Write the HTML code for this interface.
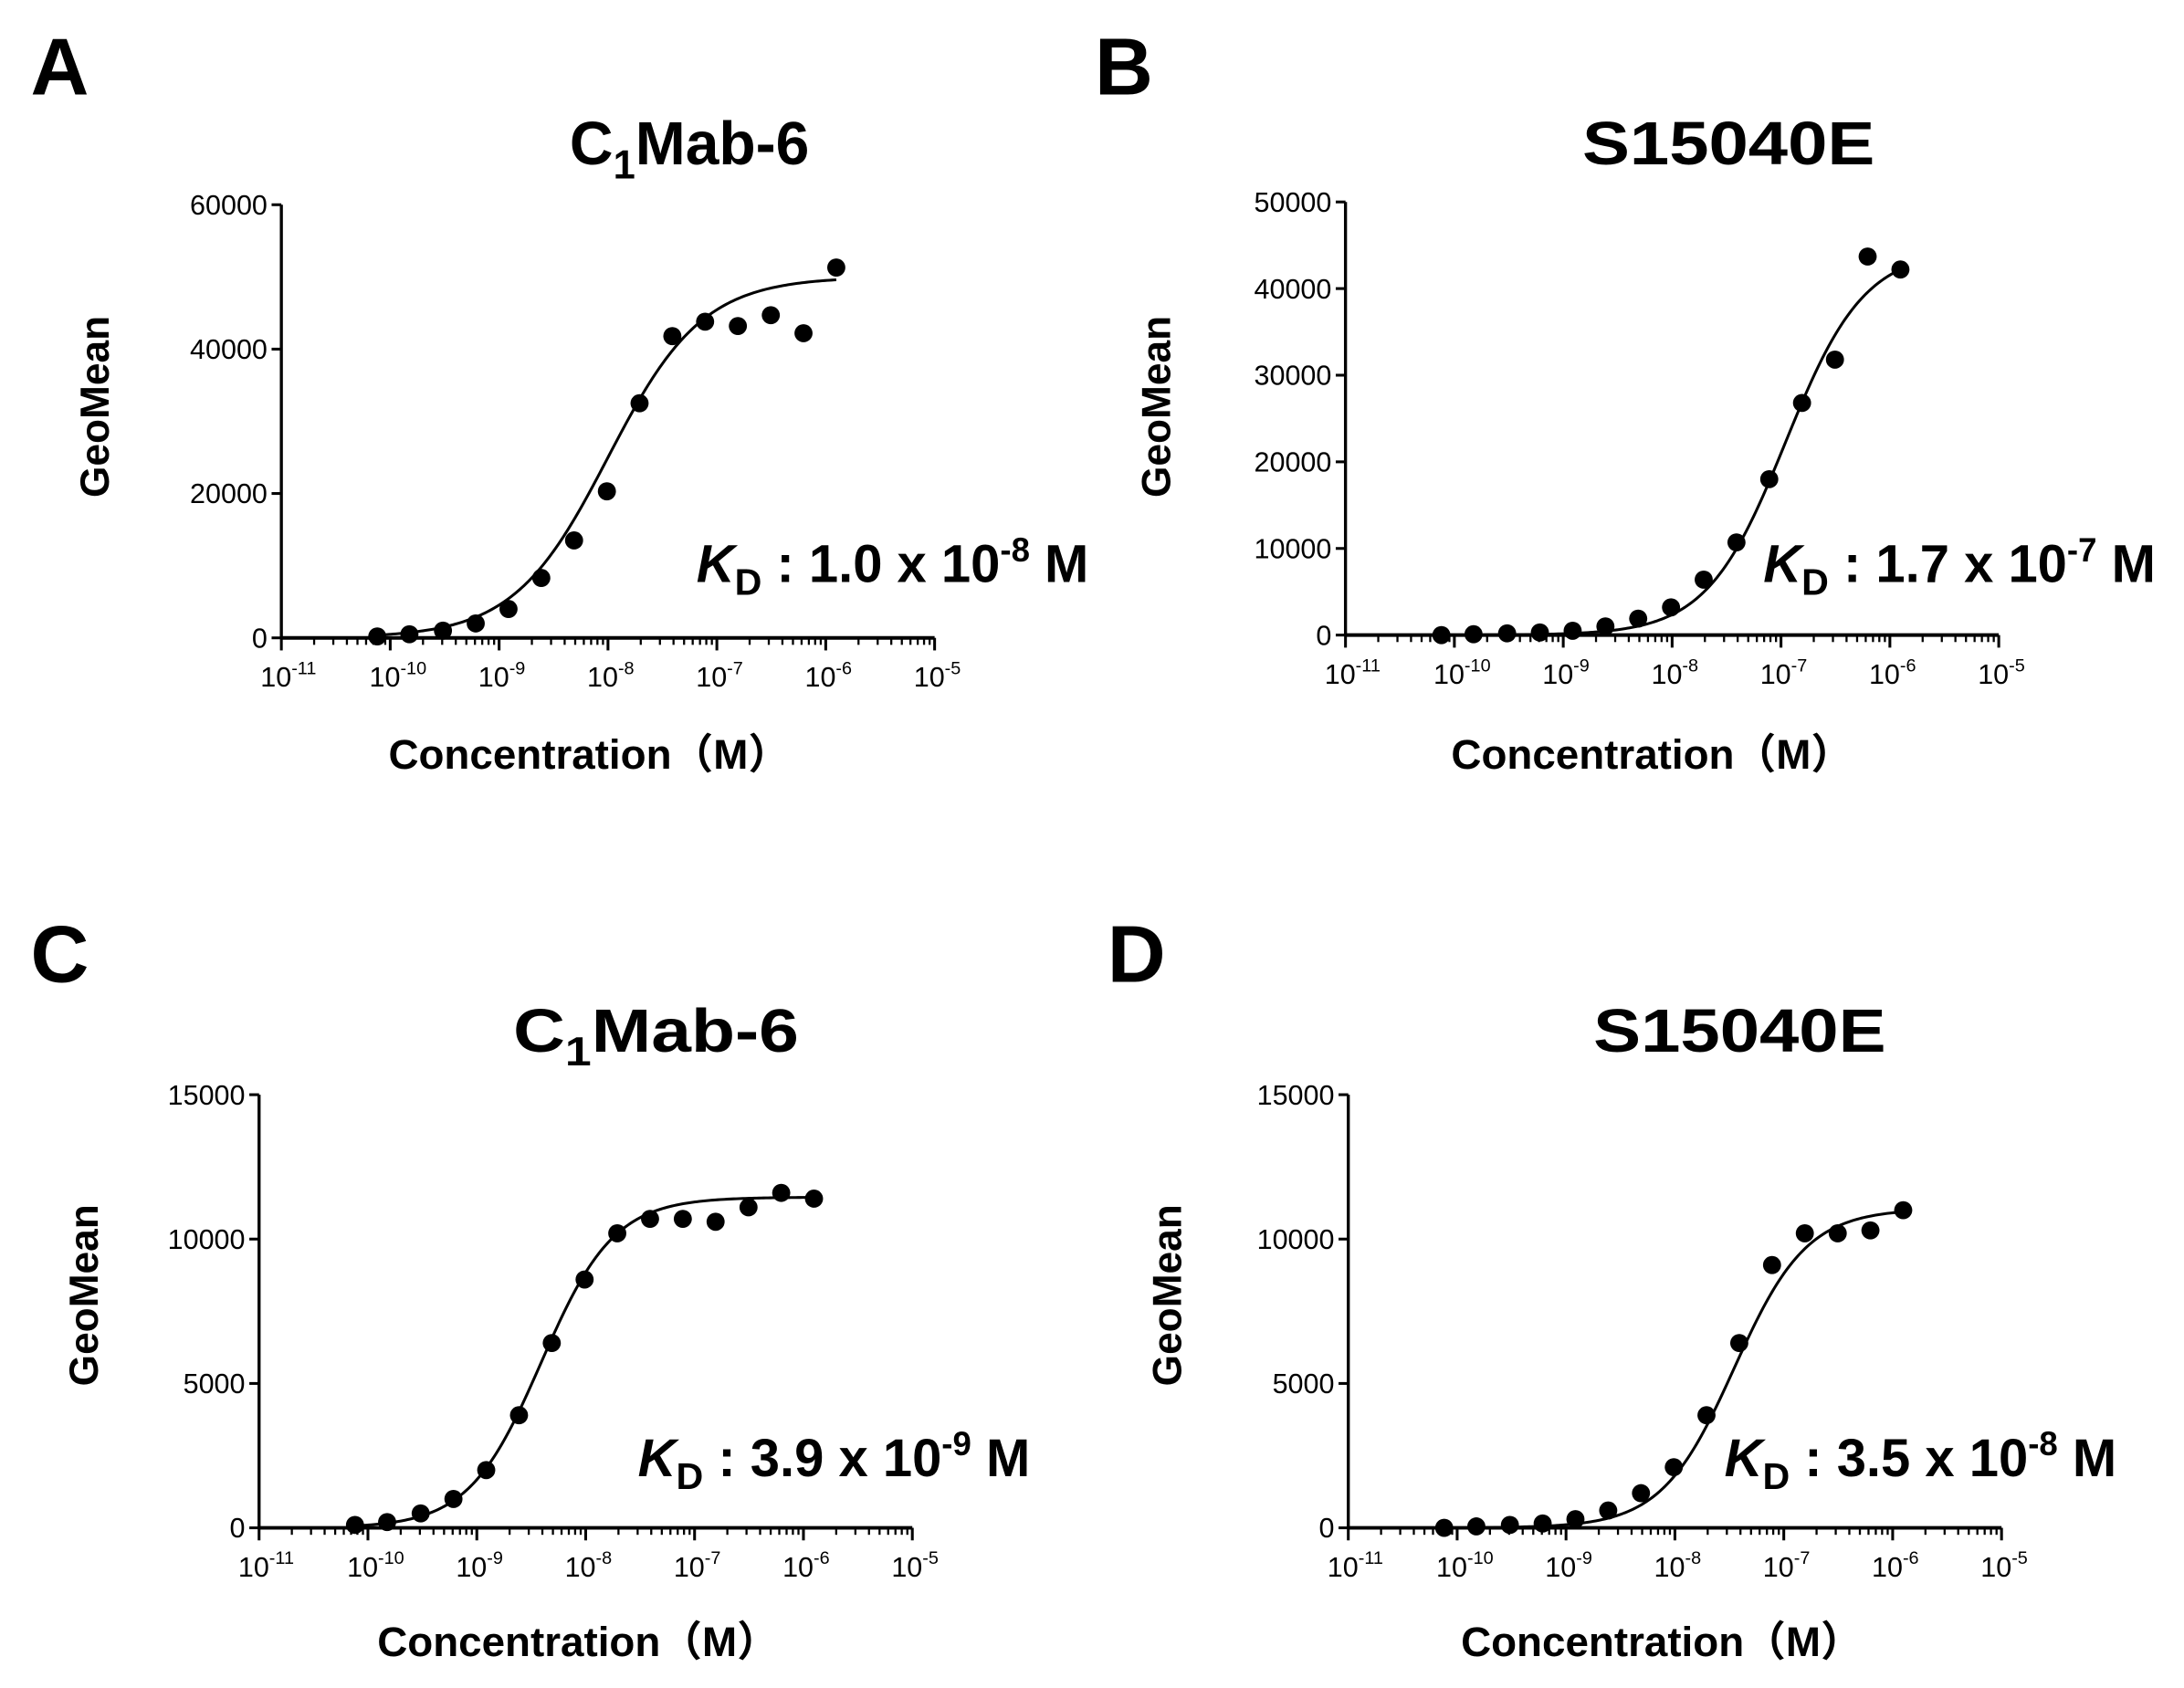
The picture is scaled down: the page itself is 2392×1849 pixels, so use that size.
<!DOCTYPE html>
<html><head><meta charset="utf-8"><style>
html,body{margin:0;padding:0;background:#fff}
svg{display:block}
text{font-family:"Liberation Sans","Noto Sans CJK JP",sans-serif;fill:#000}
</style></head><body>
<svg id="fig" width="2392" height="1849" viewBox="0 0 1568 1212" preserveAspectRatio="none" xmlns="http://www.w3.org/2000/svg"></svg>
<script>
// Shared concentrations (M): 1.25e-6 serially diluted 2-fold
const concentrations = [7.6e-11,1.5e-10,3.05e-10,6.1e-10,1.22e-9,2.44e-9,4.88e-9,9.77e-9,1.95e-8,3.9e-8,7.8e-8,1.56e-7,3.13e-7,6.25e-7,1.25e-6];
const xTickExponents = [-11,-10,-9,-8,-7,-6,-5];
// Panel A
const valuesA = [200,500,1000,2000,4000,8300,13500,20300,32500,41800,43800,43200,44700,42200,51300];
const fitA = [0,50000,1.0e-8,1.0];
const yTicksA = [0,20000,40000,60000];
// Panel B
const valuesB = [0,100,200,300,500,1000,1900,3200,6400,10700,18000,26800,31800,43700,42200];
const fitB = [0,44500,1.1e-7,1.2];
const yTicksB = [0,10000,20000,30000,40000,50000];
// Panel C
const valuesC = [100,200,500,1000,2000,3900,6400,8600,10200,10700,10700,10600,11100,11600,11400];
const fitC = [0,11450,3.9e-9,1.3];
const yTicksC = [0,5000,10000,15000];
// Panel D
const valuesD = [0,50,100,150,300,600,1200,2100,3900,6400,9100,10200,10200,10300,11000];
const fitD = [0,11050,3.5e-8,1.3];
const yTicksD = [0,5000,10000,15000];

const NS="http://www.w3.org/2000/svg";
const svg=document.getElementById('fig');
function mk(tag,attrs,parent,txt){const e=document.createElementNS(NS,tag);for(const k in attrs)e.setAttribute(k,attrs[k]);if(txt!==undefined)e.textContent=txt;(parent||svg).appendChild(e);return e;}

const panels=[
 {id:'a',letter:'A',lx:22,ly:68,title:'C1',tx:495,tw:172,ty:118,x0:202,x1:671,y0:458,y1:147,ymax:60000,vals:valuesA,fit:fitA,ticks:yTicksA,ylabx:78,ylaby:292,kdx:500,kdy:418,kd:['1.0','-8'],cx:423,cy:552},
 {id:'b',letter:'B',lx:786,ly:68,title:'S15040E',tx:1241,tw:210,ty:118,x0:966,x1:1435,y0:456,y1:145,ymax:50000,vals:valuesB,fit:fitB,ticks:yTicksB,ylabx:840,ylaby:292,kdx:1266,kdy:418,kd:['1.7','-7'],cx:1186,cy:552},
 {id:'c',letter:'C',lx:22,ly:705,title:'C1',tx:471,tw:205,ty:755,x0:186,x1:655,y0:1097,y1:786,ymax:15000,vals:valuesC,fit:fitC,ticks:yTicksC,ylabx:70,ylaby:930,kdx:458,kdy:1060,kd:['3.9','-9'],cx:415,cy:1189},
 {id:'d',letter:'D',lx:795,ly:705,title:'S15040E',tx:1249,tw:210,ty:755,x0:968,x1:1437,y0:1097,y1:786,ymax:15000,vals:valuesD,fit:fitD,ticks:yTicksD,ylabx:848,ylaby:930,kdx:1238,kdy:1060,kd:['3.5','-8'],cx:1193,cy:1189}
];

panels.forEach(p=>{
 const g=mk('g',{});
 
 
 const xs=lg=>p.x0+(lg+11)/6*(p.x1-p.x0);
 const ys=v=>p.y0-v/p.ymax*(p.y0-p.y1);
 const L=mk('text',{x:p.lx,y:p.ly,'font-size':58,'font-weight':'bold'},g,p.letter);
  
 const T=mk('text',{x:p.tx-p.tw/2,y:p.ty,'font-size':44,'font-weight':'bold',textLength:p.tw,lengthAdjust:'spacingAndGlyphs'},g);
  
 if(p.title==='C1'){T.textContent='C';mk('tspan',{'font-size':29,dy:10},T,'1');mk('tspan',{dy:-10},T,'Mab-6');}
 else T.textContent=p.title;
 const ya=mk('line',{x1:p.x0,y1:p.y1,x2:p.x0,y2:p.y0,stroke:'#000','stroke-width':2.2},g);
  
 const xa=mk('line',{x1:p.x0,y1:p.y0,x2:p.x1,y2:p.y0,stroke:'#000','stroke-width':2.6},g);
  
 p.ticks.forEach(t=>{
  const y=ys(t);
  mk('line',{x1:p.x0-7,y1:y,x2:p.x0,y2:y,stroke:'#000','stroke-width':2},g);
  const tl=mk('text',{x:p.x0-10,y:y+7,'font-size':20,'text-anchor':'end'},g,String(t));
   
 });
 xTickExponents.forEach((e,i)=>{
  const x=xs(e);
  mk('line',{x1:x,y1:p.y0,x2:x,y2:p.y0+9,stroke:'#000','stroke-width':2},g);
  if(i<xTickExponents.length-1)for(let m=2;m<10;m++){const xm=xs(e+Math.log10(m));mk('line',{x1:xm,y1:p.y0,x2:xm,y2:p.y0+5,stroke:'#000','stroke-width':1.5},g);}
  const tl=mk('text',{x:x-15,y:p.y0+35,'font-size':20},g,'10');
  mk('tspan',{'font-size':13,dy:-9},tl,String(e));
   
 });
 const yl=mk('text',{x:0,y:0,'font-size':29,'font-weight':'bold','text-anchor':'middle',transform:`translate(${p.ylabx},${p.ylaby}) rotate(-90)`},g,'GeoMean');
  
 const xl=mk('text',{x:p.cx,y:p.cy,'font-size':30,'font-weight':'bold','text-anchor':'middle'},g,'Concentration（M）');
  
 const kd=mk('text',{x:p.kdx,y:p.kdy,'font-size':38,'font-weight':'bold'},g);
  
 mk('tspan',{'font-style':'italic'},kd,'K');
 mk('tspan',{'font-size':27,dy:9},kd,'D');
 mk('tspan',{dy:-9},kd,' : '+p.kd[0]+' x 10');
 mk('tspan',{'font-size':24,dy:-15},kd,p.kd[1]);
 mk('tspan',{dy:15},kd,' M');
 const [bot,top,ec,h]=p.fit;
 let d='';
 const lo=Math.log10(concentrations[0]), hi=Math.log10(concentrations[concentrations.length-1]);
 for(let i=0;i<=200;i++){const lx=lo+(hi-lo)*i/200;const c=Math.pow(10,lx);const v=bot+(top-bot)/(1+Math.pow(ec/c,h));d+=(i?'L':'M')+xs(lx).toFixed(2)+','+ys(v).toFixed(2);}
 const cv=mk('path',{d:d,fill:'none',stroke:'#000','stroke-width':2},g);
  
 p.vals.forEach((v,i)=>{
  const c=mk('circle',{cx:xs(Math.log10(concentrations[i])),cy:ys(v),r:6.5,fill:'#000'},g);
  
  
 });
});
</script>
</body></html>
